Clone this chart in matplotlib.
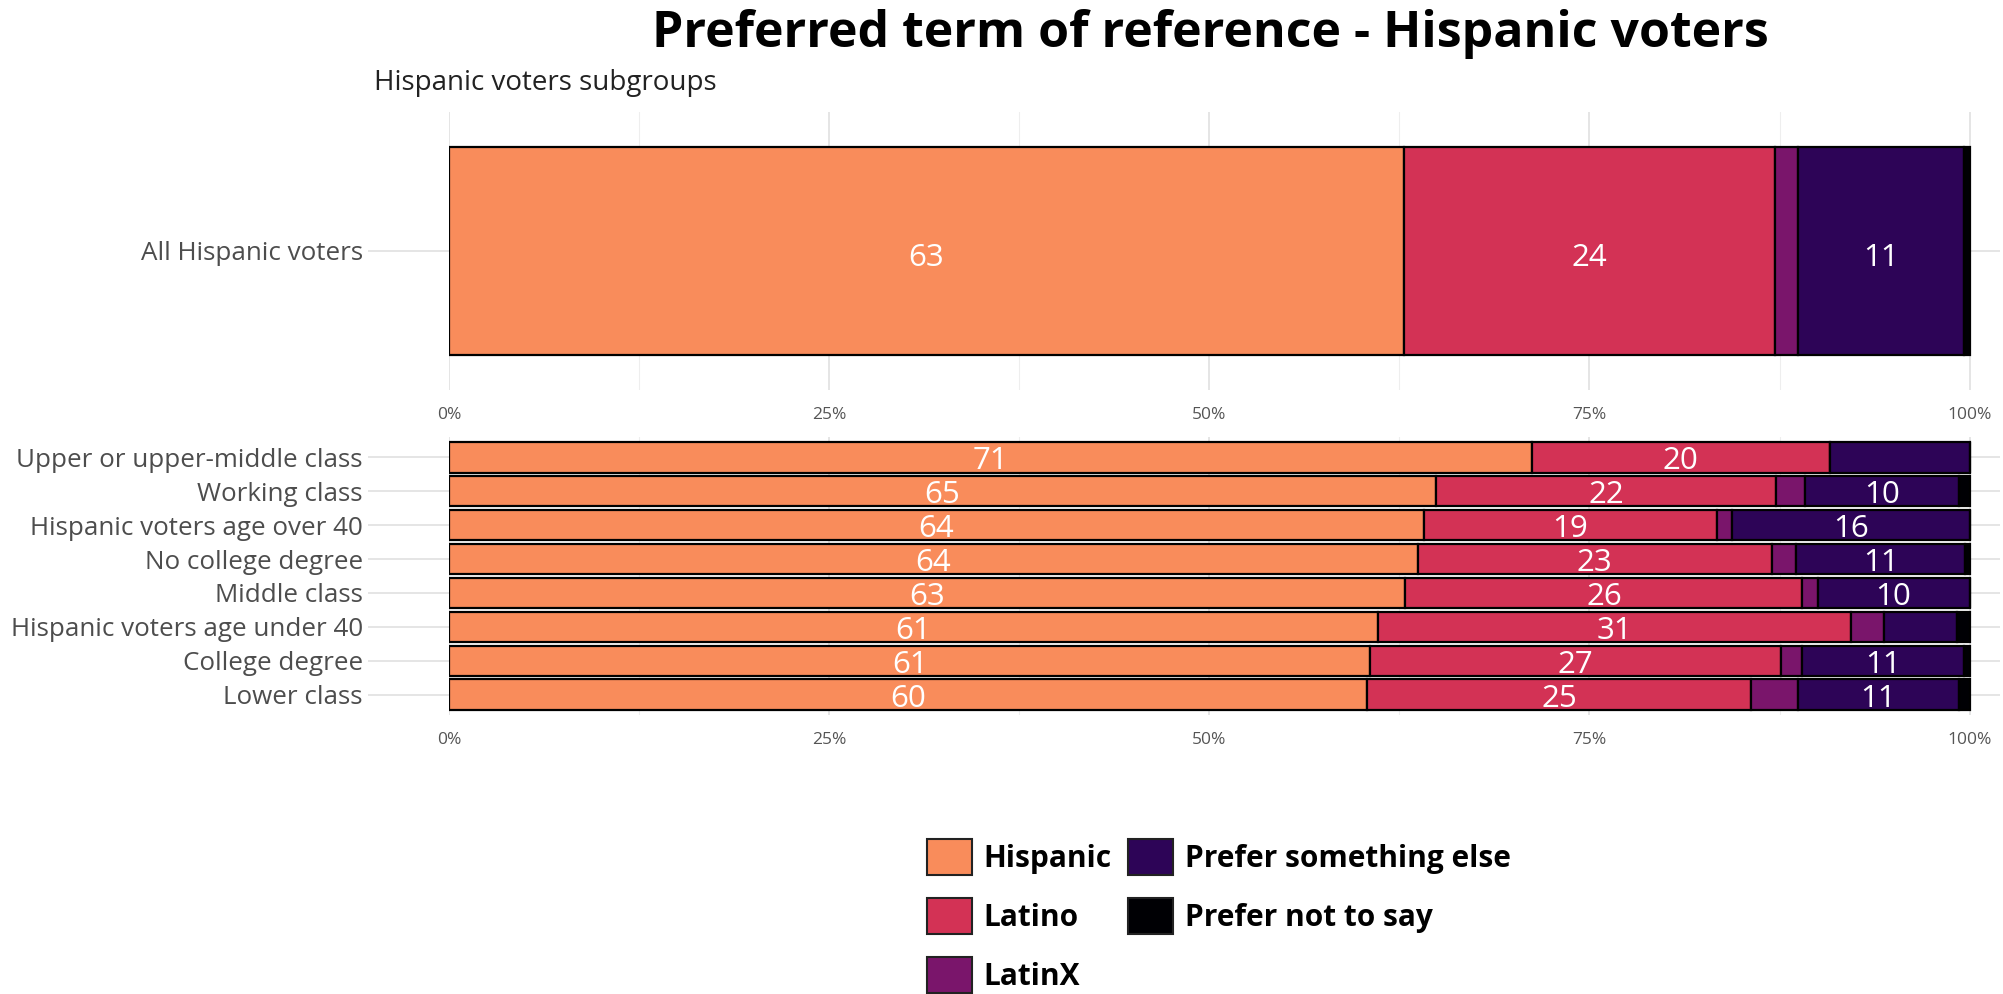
import numpy as np
import matplotlib
matplotlib.use("Agg")
import matplotlib.pyplot as plt
from matplotlib.patches import Patch
from matplotlib.ticker import FixedLocator, FuncFormatter

plt.rcParams['font.family'] = ['Open Sans', 'DejaVu Sans']

# answer options and colours
terms = ["Hispanic", "Latino", "LatinX", "Prefer something else", "Prefer not to say"]
colors = ["#F98C5B", "#D33255", "#7A156B", "#2D0457", "#000004"]

# overall
all_label = "All Hispanic voters"
all_vals = [62.8, 24.4, 1.5, 10.9, 0.4]

# subgroups, top to bottom
groups = ["Upper or upper-middle class", "Working class", "Hispanic voters age over 40",
          "No college degree", "Middle class", "Hispanic voters age under 40",
          "College degree", "Lower class"]
hispanic = [71.2, 64.9, 64.1, 63.7, 62.9, 61.1, 60.6, 60.4]
latino = [19.6, 22.4, 19.3, 23.3, 26.1, 31.1, 27.0, 25.2]
latinx = [0.0, 1.9, 1.0, 1.6, 1.0, 2.2, 1.4, 3.1]
something_else = [9.2, 10.1, 15.6, 11.1, 10.0, 4.8, 10.6, 10.6]
not_say = [0.0, 0.7, 0.0, 0.3, 0.0, 0.8, 0.4, 0.7]

W, H = 2003, 994
fig = plt.figure(figsize=(W / 100, H / 100), dpi=100)

ax1 = fig.add_axes([449 / W, 1 - 390 / H, 1551 / W, 278 / H])
ax2 = fig.add_axes([449 / W, 1 - 715 / H, 1551 / W, 278 / H])


def style(ax, labels, ypos):
    ax.set_xlim(0, 102)
    ax.xaxis.set_major_locator(FixedLocator([0, 25, 50, 75, 100]))
    ax.xaxis.set_minor_locator(FixedLocator([12.5, 37.5, 62.5, 87.5]))
    ax.xaxis.set_major_formatter(FuncFormatter(lambda v, p: f"{int(v)}%"))
    ax.set_yticks(ypos)
    ax.set_yticklabels(labels)
    for s in ax.spines.values():
        s.set_visible(False)
    ax.grid(axis='x', which='major', color='#DEDEDE', lw=1.1, zorder=0)
    ax.grid(axis='x', which='minor', color='#EEEEEE', lw=0.8, zorder=0)
    ax.grid(axis='y', which='major', color='#DEDEDE', lw=1.1, zorder=0)
    ax.set_axisbelow(True)
    ax.tick_params(axis='x', which='both', length=0, labelsize=12.5, labelcolor='#555555', pad=12)
    ax.tick_params(axis='y', length=58, width=1.1, color='#DEDEDE', labelsize=18.7,
                   labelcolor='#4D4D4D', pad=4)


def stack(ax, series, ypos, fsize, dy):
    left = np.zeros(len(ypos))
    for vals, c in zip(series, colors):
        vals = np.array(vals)
        ax.barh(ypos, vals, left=left, height=0.9, color=c, edgecolor='black', lw=1.6, zorder=2)
        for y, l, v in zip(ypos, left, vals):
            if v >= 9.5:
                ax.text(l + v / 2, y + dy, f"{round(v)}", ha='center', va='center',
                        color='white', fontsize=fsize, zorder=3)
        left = left + vals


# top panel
stack(ax1, [[v] for v in all_vals], [0], 22.5, -0.03)
style(ax1, [all_label], [0])
ax1.set_ylim(-0.6, 0.6)

# bottom panel
ypos = np.arange(len(groups))[::-1]
stack(ax2, [hispanic, latino, latinx, something_else, not_say], ypos, 22.5, -0.12)
style(ax2, groups, ypos)
ax2.set_ylim(-0.6, len(groups) - 0.4)

fig.text(1210 / W, 1 - 34 / H, "Preferred term of reference - Hispanic voters",
         ha='center', va='center', fontsize=36, fontweight='bold')
fig.text(374 / W, 1 - 83 / H, "Hispanic voters subgroups", ha='left', va='center',
         fontsize=20, color='#222222')

handles = [Patch(facecolor=c, edgecolor='#222222', lw=1.5) for c in colors]
fig.legend(handles, terms, loc='upper left', bbox_to_anchor=(912 / W, 1 - 824 / H),
           ncol=2, frameon=False, borderpad=0, handlelength=1.5, handleheight=1.5,
           labelspacing=0.75, columnspacing=0.55, handletextpad=0.4,
           prop={'size': 21.5, 'weight': 'bold'})

fig.savefig("out.png", dpi=100)
